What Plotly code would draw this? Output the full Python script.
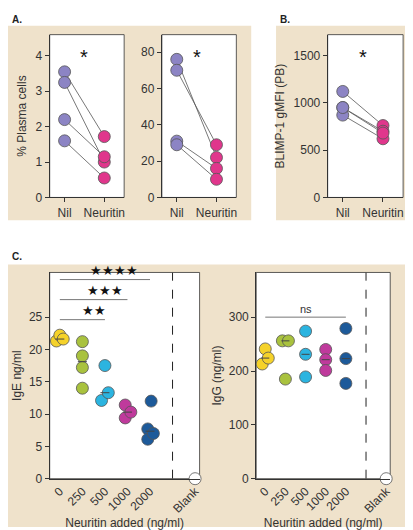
import plotly.graph_objects as go
import numpy as np

W, H = 413, 530
FONT = "Liberation Sans"
PURPLE, PINK = "#8c84c4", "#e0368c"
TAN = "#efe2cb"

# Panel A / B data (paired)
a1_nil = [3.55, 3.25, 2.2, 1.6]
a1_neu = [1.72, 1.0, 1.15, 0.55]
a2_nil = [76, 70, 31, 29]
a2_neu = [22, 29, 16, 10]
b_nil = [1120, 950, 870, 950]
b_neu = [760, 700, 620, 680]
pair_labels = ["Nil", "Neuritin"]

# Panel C data
doses = ["0", "250", "500", "1000", "2000"]
dose_colors = ["#f5d22a", "#a9c23e", "#2bb4e0", "#bf3a9c", "#1d5a9a"]
ige_vals = [[21.3, 22.2, 21.6], [21.2, 19.0, 17.2, 14.0], [17.5, 12.1, 13.3],
            [11.4, 9.4, 10.3], [12.0, 7.7, 6.1, 7.0]]
ige_jit = [[-0.15, 0, 0.15], [0, 0, 0, 0], [0, -0.15, 0.15],
           [-0.1, -0.1, 0.15], [0.05, -0.1, -0.1, 0.15]]
igg_vals = [[213, 241, 224], [256, 256, 185], [274, 231, 189],
            [240, 221, 201], [279, 223, 177]]
igg_jit = [[-0.15, 0, 0.15], [-0.15, 0.15, 0], [0, 0, 0], [0, 0, 0], [0, 0, 0]]
blank_val = 0

fig = go.Figure()

def dom(x0, x1, y0, y1):
    return [x0 / W, x1 / W], [1 - y1 / H, 1 - y0 / H]

axes = {
    "A1": dom(42, 117, 27, 192),
    "A2": dom(155, 230, 27, 192),
    "B": dom(322, 398, 27, 192),
    "C1": dom(42, 193, 268, 477),
    "C2": dom(250, 385, 268, 477),
}
names = list(axes)
layout = {}
for i, k in enumerate(names):
    n = "" if i == 0 else str(i + 1)
    xd, yd = axes[k]
    common = dict(showgrid=False, zeroline=False, showline=True, linecolor="#333",
                  ticks="outside", ticklen=4, tickcolor="#333", mirror=False,
                  tickfont=dict(size=12, color="#333", family=FONT))
    layout["xaxis" + n] = dict(domain=xd, anchor="y" + n, **common)
    layout["yaxis" + n] = dict(domain=yd, anchor="x" + n, **common)

def add_pairs(n, nil, neu, yrange, ytitle=None, dtick=None):
    xa, ya = "x" + n, "y" + n
    for a, b in zip(nil, neu):
        fig.add_trace(go.Scatter(x=[0, 1], y=[a, b], mode="lines", line=dict(color="#555", width=0.8),
                                 xaxis=xa, yaxis=ya, showlegend=False, hoverinfo="skip"))
    fig.add_trace(go.Scatter(x=[0] * len(nil), y=nil, mode="markers", xaxis=xa, yaxis=ya, showlegend=False,
                             marker=dict(size=12, color=PURPLE, line=dict(color="#555", width=0.8))))
    fig.add_trace(go.Scatter(x=[1] * len(neu), y=neu, mode="markers", xaxis=xa, yaxis=ya, showlegend=False,
                             marker=dict(size=12, color=PINK, line=dict(color="#555", width=0.8))))
    key = "" if n == "1" else n
    layout["xaxis" + key].update(range=[-0.375, 1.5], tickvals=[0, 1], ticktext=pair_labels)
    layout["yaxis" + key].update(range=yrange, dtick=dtick,
                                 title=dict(text=ytitle, font=dict(size=12, family=FONT, color="#333"), standoff=6) if ytitle else None)
    fig.add_annotation(x=0.5, y=yrange[1] * 0.86, xref=xa, yref=ya, text="*", showarrow=False,
                       font=dict(size=20, color="#111", family=FONT))

add_pairs("1", a1_nil, a1_neu, [0, 4.6], "% Plasma cells", 1)
add_pairs("2", a2_nil, a2_neu, [0, 89.6], None, 20)
add_pairs("3", b_nil, b_neu, [0, 1720], "BLIMP-1 gMFI (PB)", 500)

def add_dose(n, vals, jit, yrange, ytitle, yticks):
    xa, ya = "x" + n, "y" + n
    for i, (v, j) in enumerate(zip(vals, jit)):
        med = float(np.median(v))
        fig.add_shape(type="line", xref=xa, yref=ya, x0=i - 0.2, x1=i + 0.2, y0=med, y1=med,
                      line=dict(color="#444", width=1))
        fig.add_trace(go.Scatter(x=[i + d for d in j], y=v, mode="markers", xaxis=xa, yaxis=ya,
                                 showlegend=False,
                                 marker=dict(size=12, color=dose_colors[i], line=dict(color="#555", width=0.8))))
    fig.add_trace(go.Scatter(x=[6], y=[blank_val], mode="markers", xaxis=xa, yaxis=ya, showlegend=False,
                             cliponaxis=False,
                             marker=dict(size=12, color="white", line=dict(color="#555", width=0.8))))
    fig.add_shape(type="line", xref=xa, yref=ya, x0=5, x1=5, y0=0, y1=yrange[1],
                  line=dict(color="#222", width=1, dash="dash"))
    layout["xaxis" + n].update(range=[-0.45, 6.2], tickvals=[0, 1, 2, 3, 4, 6],
                               ticktext=doses + ["Blank"], tickangle=-45, ticks="",
                               title=dict(text="Neuritin added (ng/ml)", font=dict(size=12, family=FONT, color="#333"), standoff=2))
    layout["yaxis" + n].update(range=yrange, tickvals=yticks,
                               title=dict(text=ytitle, font=dict(size=12, family=FONT, color="#333"), standoff=4))

add_dose("4", ige_vals, ige_jit, [0, 31.9], "IgE ng/ml", [0, 5, 10, 15, 20, 25])
add_dose("5", igg_vals, igg_jit, [0, 383], "IgG (ng/ml)", [0, 100, 200, 300])

# significance bars
for y, x1, txt in [(24.6, 2, "★★"), (27.7, 3, "★★★"), (30.8, 4, "★★★★")]:
    fig.add_shape(type="line", xref="x4", yref="y4", x0=0, x1=x1, y0=y, y1=y, line=dict(color="#777", width=1))
    fig.add_annotation(xref="x4", yref="y4", x=x1 / 2 + 0.5 if x1 < 4 else 2.4, y=y, yanchor="bottom",
                       text=txt, showarrow=False, font=dict(size=13, color="#111"))
fig.add_shape(type="line", xref="x5", yref="y5", x0=0, x1=4, y0=300, y1=300, line=dict(color="#777", width=1))
fig.add_annotation(xref="x5", yref="y5", x=2, y=300, yanchor="bottom", text="ns", showarrow=False,
                   font=dict(size=11, color="#333", family=FONT))

# tan panel backgrounds
for x0, x1, y0, y1 in [(0, 245, 18, 215), (270, 413, 18, 215), (0, 413, 260, 526)]:
    fig.add_shape(type="rect", xref="paper", yref="paper", x0=x0 / W, x1=x1 / W, y0=1 - y1 / H, y1=1 - y0 / H,
                  fillcolor=TAN, line=dict(width=0), layer="below")
for k in names:
    xd, yd = axes[k]
    fig.add_shape(type="rect", xref="paper", yref="paper", x0=xd[0], x1=xd[1], y0=yd[0], y1=yd[1],
                  fillcolor="white", line=dict(color="#333", width=0.8), layer="below")

for txt, x, y in [("A.", 2, 4), ("B.", 272, 4), ("C.", 2, 244)]:
    fig.add_annotation(xref="paper", yref="paper", x=x / W, y=1 - y / H, xanchor="left", yanchor="top",
                       text="<b>" + txt + "</b>", showarrow=False, font=dict(size=10, color="#222", family=FONT))

fig.update_layout(width=W, height=H, margin=dict(l=0, r=0, t=0, b=0), paper_bgcolor="white",
                  plot_bgcolor="white", font=dict(family=FONT), **layout)
fig.write_html("out.html")
